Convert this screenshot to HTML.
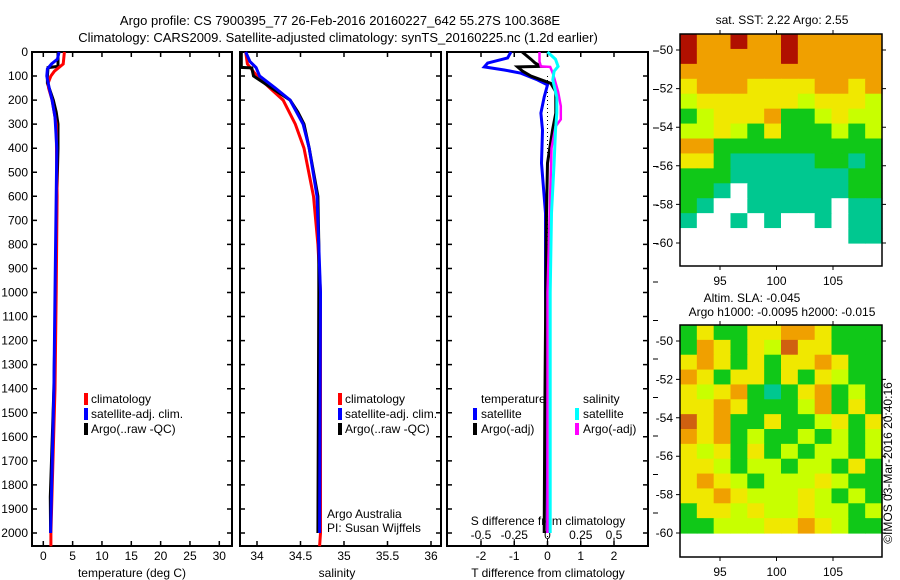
<!DOCTYPE html>
<html><head><meta charset="utf-8"><style>
html,body{margin:0;padding:0;background:#fff;}
svg{display:block;font-family:"Liberation Sans",sans-serif;}
text{font-size:12px;fill:#000;}
</style></head><body>
<svg id="fig" width="900" height="580" viewBox="0 0 900 580" xmlns="http://www.w3.org/2000/svg">
<text x="340" y="25" text-anchor="middle" style="font-size:13px">Argo profile: CS 7900395_77 26-Feb-2016 20160227_642 55.27S 100.368E</text>
<text x="338" y="42" text-anchor="middle" style="font-size:13px">Climatology: CARS2009. Satellite-adjusted climatology: synTS_20160225.nc (1.2d earlier)</text>
<g id="p1"></g>
<g id="p2"></g>
<g id="p3"></g>
<g id="m1"></g>
<g id="m2"></g>
<text x="782" y="24" text-anchor="middle">sat. SST: 2.22 Argo: 2.55</text>
<text x="752" y="302" text-anchor="middle">Altim. SLA: -0.045</text>
<text x="782" y="316" text-anchor="middle">Argo h1000: -0.0095 h2000: -0.015</text>
<text transform="translate(892,463) rotate(-90)" text-anchor="middle">©IMOS 03-Mar-2016 20:40:16</text>
</svg>
<script>
// ---- data ----
const depthTicks=[0,100,200,300,400,500,600,700,800,900,1000,1100,1200,1300,1400,1500,1600,1700,1800,1900,2000];
const tempTicks=[0,5,10,15,20,25,30];
const salTicks=[34,34.5,35,35.5,36];
const salTickLabels=["34","34.5","35","35.5","36"];
const tdiffTicks=[-2,-1,0,1,2];
const sdiffTicks=[-0.5,-0.25,0,0.25,0.5];
const sdiffTickLabels=["-0.5","-0.25","0","0.25","0.5"];

const climTempDepth=[0,50,80,100,130,150,200,300,600,1000,1400,2000,2055];
const climTemp=[3.6,3.4,1.9,1.3,0.8,0.9,1.5,2.2,2.35,2.2,2.0,1.3,1.3];
const satTempDepth=[0,30,50,70,100,150,200,270,400,1000,1400,2000];
const satTemp=[2.7,2.4,1.4,0.7,0.6,1.0,1.5,2.0,2.3,2.0,1.8,1.25];
const argoTempDepth=[0,60,65,100,130,150,200,250,300,400,600,1000,1400,1850,2000];
const argoTemp=[2.5,2.5,0.8,0.7,0.7,1.0,1.7,2.2,2.5,2.5,2.3,2.1,1.8,1.2,1.25];

const climSalDepth=[0,50,100,150,200,300,400,600,800,1000,2000,2055];
const climSal=[33.87,33.89,34.0,34.15,34.30,34.44,34.54,34.65,34.70,34.73,34.73,34.72];
const satSalDepth=[0,40,65,100,150,200,300,400,600,1000,2000];
const satSal=[33.87,33.92,33.99,34.03,34.21,34.38,34.53,34.60,34.69,34.73,34.72];
const argoSalDepth=[0,64,66,100,150,200,250,300,400,600,800,1000,2000];
const argoSal=[33.82,33.82,33.94,33.96,34.17,34.38,34.47,34.54,34.60,34.70,34.71,34.71,34.70];

const satTdiffDepth=[0,25,46,62,75,88,116,137,187,254,325,462,670,1000,2000];
const satTdiff=[-1.1,-1.2,-1.8,-1.9,-1.3,-0.8,-0.3,0,-0.1,-0.2,-0.15,-0.18,-0.06,-0.06,0];
const argoTdiffDepth=[0,30,46,60,62,80,100,130,165,254,325,462,670,1000,1500,2000];
const argoTdiff=[-0.76,-0.5,-0.37,-0.2,-0.9,-0.75,-0.5,0.1,0.25,0.25,0.15,0,-0.03,-0.05,-0.08,-0.1];
const satSdiffDepth=[0,30,60,80,116,187,254,325,462,670,1000,2000];
const satSdiff=[0,0.06,0.08,0.05,0.04,0.07,0.07,0.06,0.05,0.03,0.02,0.02];
const argoSdiffDepth=[0,40,60,62,88,165,225,280,310,400,1000,2000];
const argoSdiff=[-0.06,-0.06,-0.05,0.02,0.04,0.08,0.1,0.1,0.06,0.03,0.0,0.0];

const mapLonTicks=[95,100,105];
const mapLatTicks=[-50,-52,-54,-56,-58,-60];
const sstGrid=[
"ROOROOROOOOO","ROOOOOROOOOO","OOOOOOOOOOOO","YOOOYYYYOOYO","LYYYYYYLYYYL","GLYYYOGGLYLL",
"LLYLGYGGGLGL","OOGGGGGGGGGG","YYGTTTTTGGTG","GGGTTTTTTTGG","GGTWTTTTTTGG","GTWWTTTTTWTT",
"TWWTWTWWTWTT","WWWWWWWWWWTT"];
const slaGrid=[
"GYGGYYOOYGGG","GOYGYLDYYGGG","YOYGYGYYOYGG","OYGYYGYGYLGG","YLYOGTGYOGLG","YYOYGGGLOGYG",
"DYOGGYGGLYGY","OYOGLGGLGLGL","YLYGYGLGLLGL","YYLGLLGLLGYG","YOYLGLLLYLGG","YYOYLLLYLGLG",
"GYYLYLLYLLGL","GGLLLYYOYLGG"];
const colorKey={R:"#b01000",O:"#f0a000",Y:"#f0e800",L:"#c8ff00",G:"#10c818",T:"#00c890",W:"#ffffff",D:"#d06010",B:"#000080"};

// ---- helpers ----
const NS="http://www.w3.org/2000/svg";
function mk(parent,tag,attrs){const e=document.createElementNS(NS,tag);for(const k in attrs)e.setAttribute(k,attrs[k]);parent.appendChild(e);return e;}
const Y0=52,Y1=546;
function yD(d){return 52+d*0.2405;}
function lin(d0,d1,r0,r1){return v=>r0+(v-d0)*(r1-r0)/(d1-d0);}
const xT=lin(0,30,43.3,219.3), xS=lin(34,36,257,431), xTd=lin(-2,2,481,614), xSd=lin(-0.5,0.5,481,614);

function frame(g,x0,x1,labelsLeft){
  const r=mk(g,'rect',{x:x0,y:Y0,width:x1-x0,height:Y1-Y0,fill:'none',stroke:'#000','stroke-width':2});
  
  depthTicks.forEach(d=>{
    const y=yD(d);
    const t=mk(g,'path',{d:`M${x0} ${y}h5M${x1} ${y}h-5`,stroke:'#000','stroke-width':1.5});
    
    if(labelsLeft){const tx=mk(g,'text',{x:28,y:y+4,'text-anchor':'end'});tx.textContent=d;
      }
  });
}
function xticks(g,vals,labels,sc,y){
  vals.forEach((v,i)=>{const x=sc(v);
    const t=mk(g,'path',{d:`M${x} ${Y1}v-5M${x} ${Y0}v5`,stroke:'#000','stroke-width':1.5});
    
    const tx=mk(g,'text',{x:x,y:y,'text-anchor':'middle'});tx.textContent=labels[i];
    });
}
function line(g,ds,vs,sc,color,w,name,dash){
  const pts=ds.map((d,i)=>`${sc(vs[i]).toFixed(1)},${yD(d).toFixed(1)}`).join(' ');
  const p=mk(g,'polyline',{points:pts,fill:'none',stroke:color,'stroke-width':w||3,'stroke-linejoin':'miter'});
  if(dash)p.setAttribute('stroke-dasharray',dash);
  
}
function txt(g,x,y,s,name,anchor){const t=mk(g,'text',{x:x,y:y,'text-anchor':anchor||'start'});t.textContent=s;
  }
function legmark(g,x,y,color){const r=mk(g,'rect',{x:x,y:y-10,width:4,height:12,fill:color});
  }

// panel 1
const p1=document.getElementById('p1');
frame(p1,32,232,true);
xticks(p1,tempTicks,tempTicks.map(String),xT,560);
txt(p1,132,577,'temperature (deg C)','x-axis-title','middle');
line(p1,argoTempDepth,argoTemp,xT,'#000',3,'argo-temperature-line');
line(p1,climTempDepth,climTemp,xT,'#ff0000',3,'climatology-temperature-line');
line(p1,satTempDepth,satTemp,xT,'#0000ff',3,'satellite-temperature-line');
legmark(p1,84,403,'#ff0000');txt(p1,91,403,'climatology','legend-climatology');
legmark(p1,84,418,'#0000ff');txt(p1,91,418,'satellite-adj. clim.','legend-satellite');
legmark(p1,84,433,'#000');txt(p1,91,433,'Argo(..raw -QC)','legend-argo');

// panel 2
const p2=document.getElementById('p2');
frame(p2,240,441,false);
xticks(p2,salTicks,salTickLabels,xS,560);
txt(p2,337,577,'salinity','x-axis-title','middle');
line(p2,climSalDepth,climSal,xS,'#ff0000',3,'climatology-salinity-line');
line(p2,argoSalDepth,argoSal,xS,'#000',3,'argo-salinity-line');
line(p2,satSalDepth,satSal,xS,'#0000ff',3,'satellite-salinity-line');
legmark(p2,338,403,'#ff0000');txt(p2,345,403,'climatology','legend-climatology');
legmark(p2,338,418,'#0000ff');txt(p2,345,418,'satellite-adj. clim.','legend-satellite');
legmark(p2,338,433,'#000');txt(p2,345,433,'Argo(..raw -QC)','legend-argo');
txt(p2,327,518,'Argo Australia','credit-argo-australia');
txt(p2,327,532,'PI: Susan Wijffels','credit-pi');

// panel 3
const p3=document.getElementById('p3');
frame(p3,447,648,false);
xticks(p3,tdiffTicks,tdiffTicks.map(String),xTd,560);
txt(p3,548,577,'T difference from climatology','x-axis-title','middle');
sdiffTicks.forEach((v,i)=>{const x=xSd(v);txt(p3,x,539,sdiffTickLabels[i],'s-diff-tick-label','middle');
  const t=mk(p3,'path',{d:`M${x} 543v-4`,stroke:'#000','stroke-width':1});});
txt(p3,548,525,'S difference from climatology','s-diff-axis-title','middle');
const zl=mk(p3,'line',{x1:xTd(0),y1:yD(100),x2:xTd(0),y2:Y1,stroke:'#000','stroke-width':1,'stroke-dasharray':'1 3'});

line(p3,satTdiffDepth,satTdiff,xTd,'#0000ff',3,'satellite-t-diff-line');
line(p3,argoTdiffDepth,argoTdiff,xTd,'#000',3,'argo-t-diff-line');
line(p3,argoSdiffDepth,argoSdiff,xSd,'#ff00ff',2.5,'argo-s-diff-line');
line(p3,satSdiffDepth,satSdiff,xSd,'#00ffff',3,'satellite-s-diff-line');
txt(p3,481,403,'temperature','legend-temperature-header');
txt(p3,583,403,'salinity','legend-salinity-header');
legmark(p3,473,418,'#0000ff');txt(p3,481,418,'satellite','legend-t-satellite');
legmark(p3,473,433,'#000');txt(p3,481,433,'Argo(-adj)','legend-t-argo');
legmark(p3,575,418,'#00ffff');txt(p3,583,418,'satellite','legend-s-satellite');
legmark(p3,575,433,'#ff00ff');txt(p3,583,433,'Argo(-adj)','legend-s-argo');
for(let i=0;i<13;i++){const y=51+i*38.5;const t=mk(p3,'path',{d:`M653 ${y}h5`,stroke:'#000','stroke-width':1});
  }

// maps
function drawMap(id,grid,top,lat50y,lat60y,bottom){
  const g=document.getElementById(id);
  const xL=680,xR=882;
  const xLon=lin(95,105,720,833), yLat=lin(-50,-60,lat50y,lat60y);
  const cellTop=top, cellBot=yLat(-60);
  const rows=grid.length, cols=grid[0].length;
  const cw=(xR-xL)/cols, ch=(cellBot-cellTop)/rows;
  grid.forEach((row,r)=>{[...row].forEach((c,k)=>{
    const rc=mk(g,'rect',{x:(xL+k*cw).toFixed(2),y:(cellTop+r*ch).toFixed(2),width:(cw+0.6).toFixed(2),height:(ch+0.6).toFixed(2),fill:colorKey[c]});
    });});
  const f=mk(g,'rect',{x:xL,y:top,width:xR-xL,height:bottom-top,fill:'none',stroke:'#000','stroke-width':1.5});
  
  mapLatTicks.forEach(v=>{const y=yLat(v);
    const t=mk(g,'path',{d:`M${xL} ${y}h-4M${xR} ${y}h4`,stroke:'#000','stroke-width':1});
    
    txt(g,673,y+4,String(v),'lat-tick-label','end');});
  mapLonTicks.forEach(v=>{const x=xLon(v);
    const t=mk(g,'path',{d:`M${x} ${top}v-4M${x} ${bottom}v4`,stroke:'#000','stroke-width':1});
    
    txt(g,x,bottom+19,String(v),'lon-tick-label','middle');});
}
drawMap('m1',sstGrid,34,50,243,266);
drawMap('m2',slaGrid,325,341,533,557);
</script>
</body></html>
